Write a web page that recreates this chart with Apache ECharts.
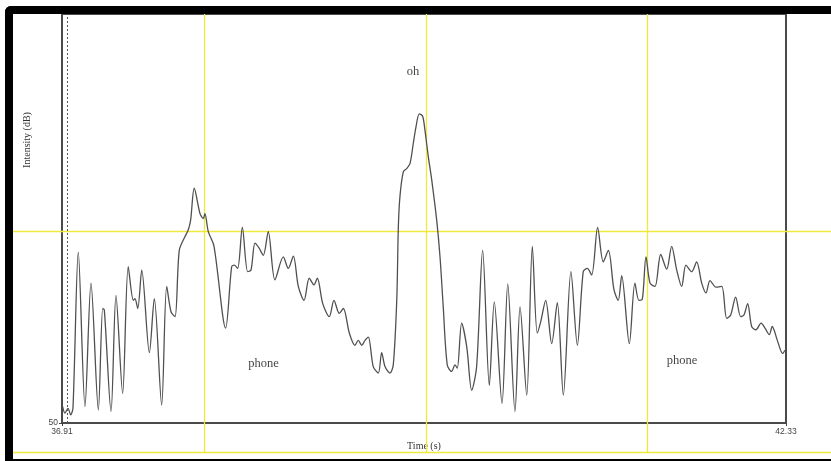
<!DOCTYPE html>
<html><head><meta charset="utf-8">
<script src="https://cdn.jsdelivr.net/npm/echarts@6/dist/echarts.min.js"></script>
<style>
html,body{margin:0;padding:0;background:#fff;overflow:hidden;}
#c{position:absolute;left:0;top:0;width:831px;height:461px;}
#frame{position:absolute;left:5px;top:6px;width:818px;height:445px;border-left:8px solid #000;border-top:8px solid #000;border-bottom:2px solid #000;border-top-left-radius:6px;pointer-events:none;}
</style></head><body>
<div id="c"></div><div id="frame"></div>
<script>
// Time (s)
const times = [36.915,36.932,36.955,36.975,36.992,37.032,37.082,37.127,37.182,37.215,37.227,37.277,37.314,37.364,37.406,37.444,37.456,37.477,37.507,37.564,37.601,37.656,37.694,37.726,37.756,37.788,37.831,37.855,37.873,37.900,37.943,37.968,37.980,38.005,38.048,38.135,38.180,38.200,38.225,38.260,38.300,38.325,38.355,38.385,38.417,38.454,38.504,38.567,38.604,38.642,38.679,38.722,38.761,38.796,38.821,38.862,38.911,38.946,38.986,39.016,39.061,39.103,39.128,39.154,39.178,39.203,39.240,39.278,39.303,39.328,39.365,39.390,39.416,39.428,39.440,39.465,39.490,39.515,39.540,39.560,39.585,39.610,39.627,39.652,39.678,39.715,39.740,39.764,39.794,39.827,39.852,39.869,39.902,39.940,39.977,40.014,40.059,40.109,40.146,40.204,40.247,40.301,40.339,40.389,40.431,40.468,40.494,40.531,40.576,40.618,40.663,40.720,40.768,40.812,40.842,40.875,40.920,40.962,41.000,41.042,41.074,41.100,41.157,41.199,41.229,41.254,41.282,41.312,41.349,41.392,41.437,41.474,41.512,41.549,41.581,41.624,41.661,41.699,41.731,41.761,41.806,41.849,41.886,41.916,41.953,41.991,42.015,42.043,42.073,42.105,42.143,42.173,42.205,42.227,42.265,42.305,42.322];
// Intensity (dB)
const intensity = [52.0,51.2,51.8,51.0,51.8,70.9,52.0,67.1,51.6,64.0,63.8,51.4,65.6,53.6,69.1,65.0,65.2,64.0,68.7,58.6,65.2,52.2,66.7,63.6,63.0,71.1,72.8,73.6,74.8,78.7,75.6,75.0,75.6,73.4,71.6,61.6,69.1,69.3,68.9,73.9,68.5,68.7,72.0,71.4,70.5,73.4,67.5,70.3,68.9,70.4,66.7,65.0,67.7,66.9,67.7,64.6,63.0,65.0,63.4,64.0,61.0,59.5,60.1,59.5,60.1,60.5,56.9,56.1,58.6,56.9,56.1,57.1,65.0,74.0,77.7,80.7,81.1,81.7,84.2,86.2,87.8,87.5,85.8,82.6,79.7,74.8,70.3,64.2,57.1,56.3,57.1,56.7,62.2,59.3,54.0,56.9,71.1,54.6,64.8,52.4,67.0,51.4,64.2,53.4,71.6,61.0,62.4,65.0,59.7,64.7,53.4,68.5,59.5,68.5,68.9,68.1,73.9,69.7,71.1,66.3,65.0,68.0,59.7,67.1,65.0,65.1,70.3,67.1,66.7,70.6,68.8,71.6,68.7,66.7,69.3,68.5,69.7,67.1,65.9,67.4,66.6,66.7,62.8,63.2,65.4,63.0,63.2,64.6,61.8,61.4,62.2,61.6,60.8,61.8,60.1,58.5,58.9];
// axis range & tick labels
const timeMin = 36.91, timeMax = 42.33;
const dbMin = 50, dbMax = 100;
const xTickLabels = [36.91, 42.33];
const yTickLabels = [50];
// cursors / markers
const cursorTimes = [37.973, 39.635, 41.289];
const cursorDb = 73.47;
const markerTime = 36.947;
// text annotations
const noteTexts = ['oh', 'phone', 'phone'];
const noteTimes = [39.537, 38.419, 41.551];
const noteDbs = [92.9, 57.3, 57.6];

const chart = echarts.init(document.getElementById('c'), null, {renderer:'canvas'});
const serif = 'Liberation Serif';
const option = {
  animation:false,
  backgroundColor:'#fff',
  grid:{left:62, right:45, top:14, bottom:38, show:true, borderColor:'#4a4a4a', borderWidth:2, backgroundColor:'transparent'},
  xAxis:{type:'value', min:timeMin, max:timeMax, interval: timeMax-timeMin,
    name:'Time (s)', nameLocation:'middle', nameGap:17,
    nameTextStyle:{fontFamily:serif, fontSize:10, color:'#333'},
    axisLine:{show:false}, splitLine:{show:false},
    axisTick:{show:true, length:3, lineStyle:{color:'#444'}, customValues:xTickLabels},
    axisLabel:{fontFamily:'Liberation Sans', fontSize:8.5, color:'#444', margin:4, customValues:xTickLabels,
      formatter:v=>v.toFixed(2), showMinLabel:true, showMaxLabel:true}
  },
  yAxis:{type:'value', min:dbMin, max:dbMax, interval:50,
    axisLine:{show:false}, splitLine:{show:false},
    axisTick:{show:true, length:3, lineStyle:{color:'#444'}, customValues:yTickLabels},
    axisLabel:{fontFamily:'Liberation Sans', fontSize:8.5, color:'#444', margin:4, customValues:yTickLabels,
      formatter:v=> yTickLabels.indexOf(v)>=0 ? String(v) : ''}
  },
  series:[
    {type:'line', data:times.map((t,i)=>[t,intensity[i]]), showSymbol:false, smooth:0.3,
      lineStyle:{color:'#505050', width:1.3}, z:3,
      markLine:{silent:true, symbol:'none', label:{show:false},
        lineStyle:{color:'#555', type:[2,2], width:1}, data:[{xAxis:markerTime}]}},
    {type:'scatter', symbolSize:1, itemStyle:{color:'transparent'},
      data:noteTimes.map((t,i)=>({value:[t,noteDbs[i]], name:noteTexts[i]})),
      label:{show:true, position:'inside', formatter:p=>p.name, fontFamily:serif, fontSize:12.5, color:'#111'}, z:4}
  ]
};
chart.setOption(option);

// decorations positioned through the chart's own scales
const g = [];
const yLineColor = '#eeea3c';
const topY = chart.convertToPixel({gridIndex:0},[timeMin,dbMax])[1];
const bottomYellow = 452;
cursorTimes.forEach(t=>{
  const px = Math.round(chart.convertToPixel({gridIndex:0},[t,dbMin])[0])+0.5;
  g.push({type:'line', z:1, shape:{x1:px,y1:topY,x2:px,y2:bottomYellow}, style:{stroke:yLineColor, lineWidth:1.3}});
});
const py = Math.round(chart.convertToPixel({gridIndex:0},[timeMin,cursorDb])[1])+0.5;
g.push({type:'line', z:1, shape:{x1:13,y1:py,x2:831,y2:py}, style:{stroke:yLineColor, lineWidth:1.3}});
g.push({type:'line', z:1, shape:{x1:13,y1:bottomYellow+0.5,x2:831,y2:bottomYellow+0.5}, style:{stroke:yLineColor, lineWidth:1.3}});
g.push({type:'text', z:5, x:27, y:140, rotation:Math.PI/2,
  style:{text:'Intensity (dB)', fontFamily:serif, fontSize:10, fill:'#333', align:'center', verticalAlign:'middle'}});
chart.setOption({graphic:g});
</script>
</body></html>
